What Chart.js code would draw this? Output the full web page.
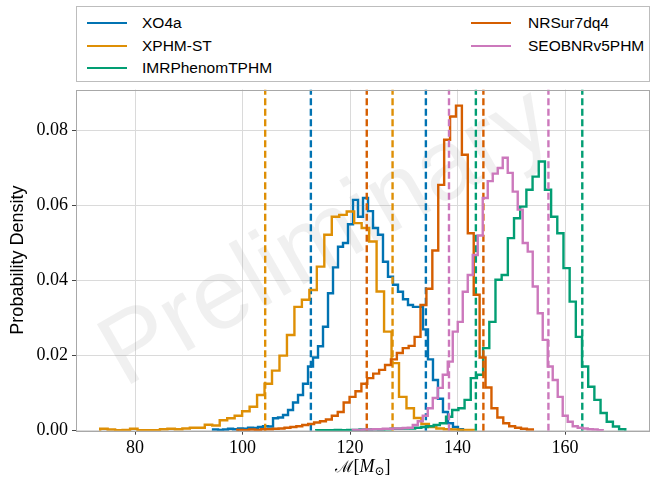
<!DOCTYPE html>
<html>
<head>
<meta charset="utf-8">
<script src="https://cdn.jsdelivr.net/npm/chart.js@4.4.1/dist/chart.umd.min.js"></script>
<style>
html,body{margin:0;padding:0;background:#fff;}
#wrap{position:relative;width:654px;height:478px;overflow:hidden;}
#c{position:absolute;left:0;top:0;}
#legend{position:absolute;left:76px;top:6px;width:574px;height:76px;border:1px solid #bdbdbd;box-sizing:border-box;background:#fff;font-family:"Liberation Sans",Arial,sans-serif;font-size:15.5px;color:#000;}
.item{position:absolute;height:20px;line-height:20px;white-space:nowrap;}
.sw{position:absolute;top:9px;width:40px;height:2px;}
.tx{position:absolute;top:0;}
#xtitle{position:absolute;left:0;width:726px;text-align:center;top:455px;font-family:"Liberation Serif","DejaVu Serif",serif;font-size:18px;color:#000;}
#xtitle sub{font-size:12px;vertical-align:-3px;}
</style>
</head>
<body>
<div id="wrap">
<canvas id="c" width="654" height="478"></canvas>
<div id="legend"></div>
<div id="xtitle"><span style="font-family:'DejaVu Serif',serif;font-size:16px">ℳ</span>[<i>M</i><sub>⊙</sub>]</div>
</div>
<script>
// ---- data ----
const seriesNames = ['XO4a','XPHM-ST','IMRPhenomTPHM','NRSur7dq4','SEOBNRv5PHM'];
const seriesColors = ['#0173B2','#DE8F05','#029E73','#D55E00','#CC78BC'];

const xTicks = [80,100,120,140,160];
const yTicks = [0,0.02,0.04,0.06,0.08];
const xLimits = [69.0,175.8];
const yLimits = [0,0.0909];

// histogram bins: first edge and bin width per series, densities per bin
const binStartXO4a = 94.5, binWidthXO4a = 0.93;
const densXO4a = [0.0003,0.0002,0.0003,0.0005,0.0004,0.0006,0.0005,0.0008,0.0007,0.0010,
 0.0012,0.0011,0.0033,0.0035,0.0042,0.0055,0.0075,0.0095,0.0125,0.0171,
 0.0195,0.0225,0.0277,0.0366,0.0435,0.0490,0.0500,0.0550,0.0615,0.0570,
 0.0620,0.0585,0.0540,0.0522,0.0450,0.0410,0.0389,0.0370,0.0350,0.0335,
 0.0330,0.0330,0.0270,0.0190,0.0135,0.0085,0.0050,0.0020,0.0010,0.0004];

const binStartXPHM = 73.5, binWidthXPHM = 1.39;
const densXPHM = [0.0005,0.0003,0.0001,0.0002,0.0005,0.0001,0.0001,0.0001,0.0004,0.0005,
 0.0004,0.0006,0.0008,0.0008,0.0016,0.0014,0.0028,0.0033,0.0040,0.0052,
 0.0064,0.0095,0.0125,0.0160,0.0200,0.0255,0.0330,0.0349,0.0375,0.0437,
 0.0522,0.0570,0.0575,0.0584,0.0553,0.0540,0.0504,0.0371,0.0264,0.0180,
 0.0090,0.0060,0.0034,0.0018,0.0010,0.0006,0.0004,0.0003,0.0002,0.0002];

const binStartIMRT = 113.7, binWidthIMRT = 1.15;
const densIMRT = [0.0001,0.0001,0.0001,0.0002,0.0001,0.0002,0.0002,0.0003,0.0003,0.0004,
 0.0003,0.0004,0.0005,0.0005,0.0006,0.0006,0.0008,0.0010,0.0012,0.0015,
 0.0020,0.0037,0.0055,0.0060,0.0082,0.0140,0.0149,0.0220,0.0290,0.0402,
 0.0415,0.0513,0.0566,0.0597,0.0642,0.0677,0.0717,0.0642,0.0570,0.0526,
 0.0433,0.0344,0.0250,0.0171,0.0117,0.0082,0.0047,0.0024,0.0011,0.0004];

const binStartNRSur = 99.0, binWidthNRSur = 1.1;
const densNRSur = [0.0002,0.0001,0.0003,0.0002,0.0004,0.0004,0.0005,0.0006,0.0008,0.0010,
 0.0012,0.0015,0.0018,0.0022,0.0025,0.0030,0.0040,0.0050,0.0075,0.0090,
 0.0105,0.0125,0.0140,0.0152,0.0162,0.0175,0.0190,0.0207,0.0220,0.0226,
 0.0250,0.0335,0.0378,0.0480,0.0655,0.0775,0.0837,0.0866,0.0735,0.0526,
 0.0362,0.0195,0.0115,0.0060,0.0035,0.0020,0.0012,0.0008,0.0005,0.0003];

const binStartSEOB = 120.5, binWidthSEOB = 0.93;
const densSEOB = [0.0002,0.0002,0.0003,0.0003,0.0004,0.0004,0.0005,0.0005,0.0006,0.0006,
 0.0007,0.0008,0.0015,0.0025,0.0040,0.0060,0.0087,0.0114,0.0149,0.0184,
 0.0264,0.0290,0.0370,0.0415,0.0468,0.0520,0.0620,0.0665,0.0685,0.0700,
 0.0727,0.0687,0.0637,0.0589,0.0500,0.0477,0.0384,0.0313,0.0242,0.0171,
 0.0135,0.0090,0.0040,0.0024,0.0012,0.0008,0.0006,0.0004,0.0003,0.0001];

// 90% credible bounds (dashed lines)
const boundsXO4a = [112.7,134.1];
const boundsXPHM = [104.2,127.9];
const boundsIMRT = [143.4,163.2];
const boundsNRSur = [123.1,144.8];
const boundsSEOB = [138.4,156.9];

// ---- build datasets ----
const hists = [
  [binStartXO4a,binWidthXO4a,densXO4a,boundsXO4a],
  [binStartXPHM,binWidthXPHM,densXPHM,boundsXPHM],
  [binStartIMRT,binWidthIMRT,densIMRT,boundsIMRT],
  [binStartNRSur,binWidthNRSur,densNRSur,boundsNRSur],
  [binStartSEOB,binWidthSEOB,densSEOB,boundsSEOB]
];
function stepPoints(start,width,dens){
  const pts=[{x:start,y:0}];
  dens.forEach((d,i)=>pts.push({x:start+i*width,y:d}));
  pts.push({x:start+dens.length*width,y:0});
  return pts;
}
const datasets=[];
hists.forEach((h,k)=>{
  datasets.push({label:seriesNames[k],data:stepPoints(h[0],h[1],h[2]),borderColor:seriesColors[k],
    borderWidth:2.4,stepped:true,pointRadius:0,fill:false,order:10-k});
  h[3].forEach(b=>datasets.push({label:seriesNames[k]+' bound',data:[{x:b,y:yLimits[0]},{x:b,y:yLimits[1]}],
    borderColor:seriesColors[k],borderWidth:2.4,borderDash:[7,3.5],pointRadius:0,fill:false,order:10-k}));
});

// ---- legend (matplotlib-like, 2 columns) ----
const lg=document.getElementById('legend');
const colX=[[10,65],[394,451]], rowY=[6,28.5,51];
seriesNames.forEach((n,i)=>{
  const col=i<3?0:1,row=i<3?i:i-3;
  const it=document.createElement('div');it.className='item';it.style.left='0px';it.style.top=rowY[row]+'px';
  it.innerHTML='<div class="sw" style="left:'+colX[col][0]+'px;background:'+seriesColors[i]+'"></div><div class="tx" style="left:'+colX[col][1]+'px">'+n+'</div>';
  lg.appendChild(it);
});

const watermark={id:'wm',beforeDatasetsDraw(chart){
  const ctx=chart.ctx;ctx.save();
  ctx.translate(327,239);ctx.rotate(-30*Math.PI/180);
  ctx.font='100px "Liberation Sans", Arial, sans-serif';
  ctx.fillStyle='rgba(128,128,128,0.12)';ctx.textAlign='center';ctx.textBaseline='middle';
  ctx.fillText('Preliminary',0,0);ctx.restore();
}};
const frame={id:'frame',afterDraw(chart){
  const a=chart.chartArea,ctx=chart.ctx;ctx.save();
  ctx.strokeStyle='#a8a8a8';ctx.lineWidth=1;
  ctx.strokeRect(Math.round(a.left)+0.5,Math.round(a.top)+0.5,Math.round(a.right-a.left)-1,Math.round(a.bottom-a.top));
  ctx.restore();
}};

new Chart(document.getElementById('c'),{
  type:'line',
  data:{datasets},
  options:{
    responsive:false,animation:false,devicePixelRatio:1,
    layout:{padding:{top:89.5,right:4,left:0,bottom:0}},
    plugins:{legend:{display:false},tooltip:{enabled:false}},
    scales:{
      x:{type:'linear',min:xLimits[0],max:xLimits[1],
        afterBuildTicks:s=>{s.ticks=xTicks.map(v=>({value:v}));},
        afterFit:s=>{s.height=47.3;},
        grid:{color:'#dadada',lineWidth:1,tickLength:4,tickColor:'#444'},
        border:{display:false},
        ticks:{color:'#000',padding:3,maxRotation:0,autoSkip:false,font:{family:'"Liberation Serif", serif',size:18},callback:v=>String(v)}},
      y:{type:'linear',min:yLimits[0],max:yLimits[1],
        afterBuildTicks:s=>{s.ticks=yTicks.map(v=>({value:v}));},
        afterFit:s=>{s.width=76;},
        grid:{color:'#dadada',lineWidth:1,tickLength:4,tickColor:'#444'},
        border:{display:false},
        title:{display:true,text:'Probability Density',color:'#000',font:{family:'"Liberation Sans", Arial, sans-serif',size:18},padding:{top:7,bottom:0}},
        ticks:{color:'#000',padding:4,autoSkip:false,font:{family:'"Liberation Serif", serif',size:18},callback:v=>Number(v).toFixed(2)}}
    }
  },
  plugins:[watermark,frame]
});
</script>
</body>
</html>
